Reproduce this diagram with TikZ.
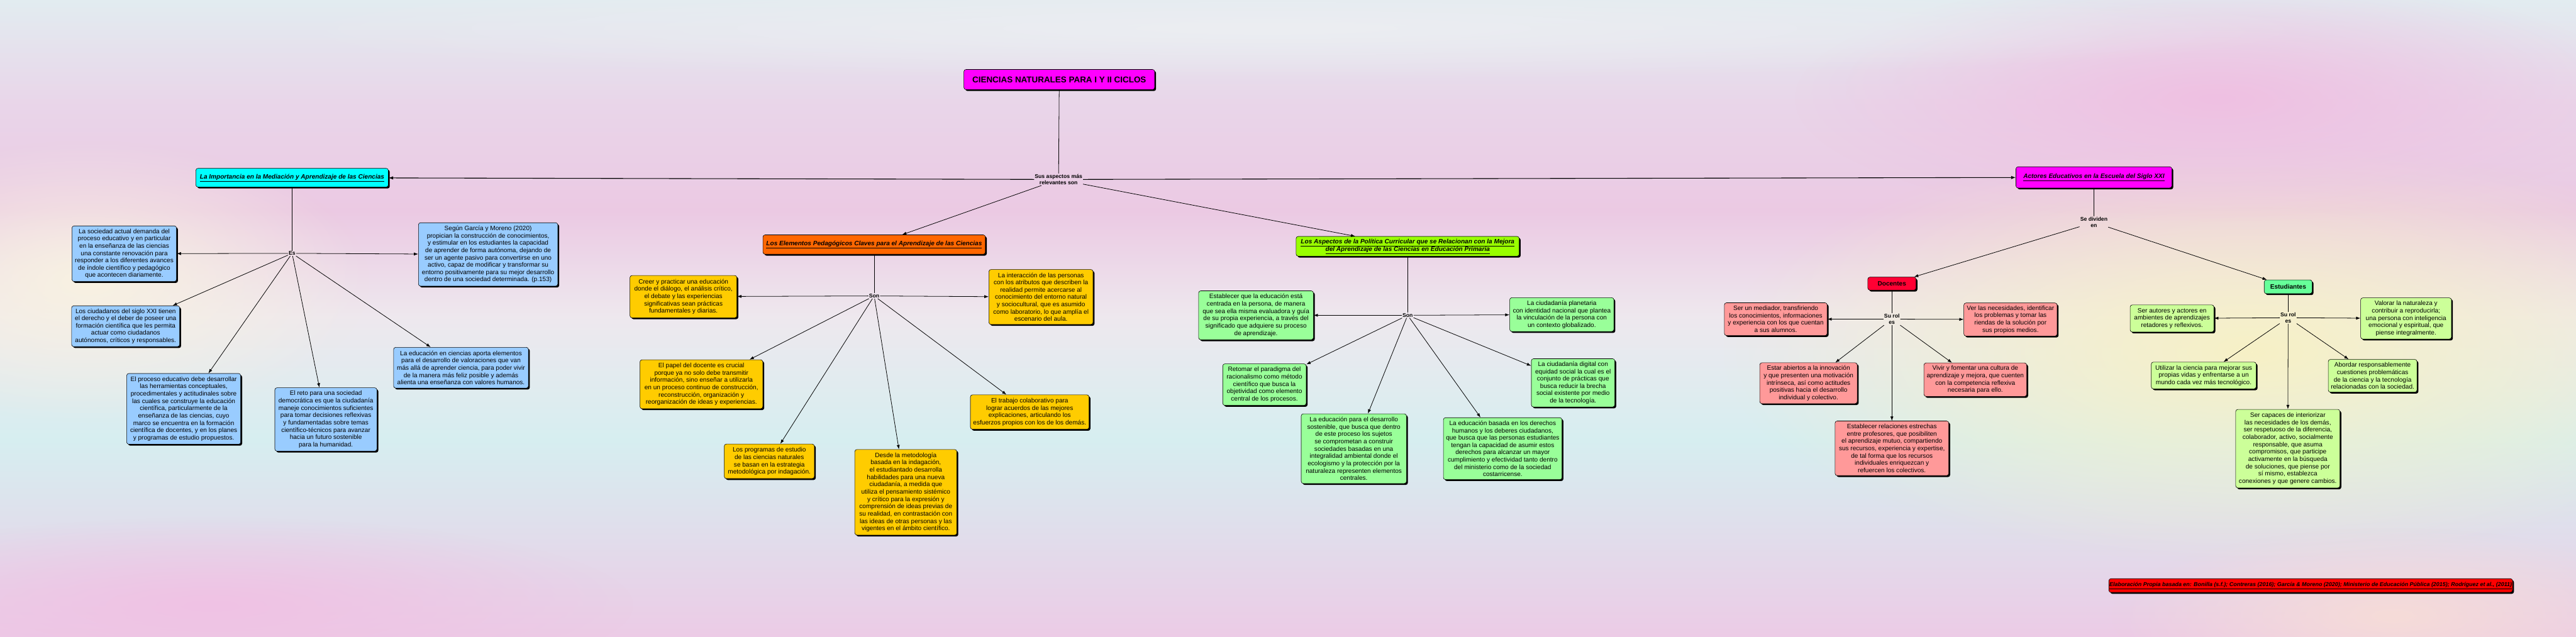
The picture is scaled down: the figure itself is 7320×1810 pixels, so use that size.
\documentclass[tikz,border=0pt]{standalone}
\usepackage{fontspec}
\setmainfont{Liberation Sans}
\usetikzlibrary{arrows.meta,shadows,fadings}
\newlength\pxu
\setlength\pxu{0.02cm}
\newcommand{\fBody}{\fontsize{10.24pt}{11.84pt}\selectfont}
\newcommand{\fHead}{\fontsize{10.24pt}{11.95pt}\selectfont\bfseries\itshape}
\newcommand{\fTitle}{\fontsize{13.66pt}{16pt}\selectfont\bfseries}
\newcommand{\fLbl}{\fontsize{8.8pt}{10.6pt}\selectfont\bfseries}
\newcommand{\fFoot}{\fontsize{9.1pt}{10pt}\selectfont\bfseries\itshape}
\definecolor{magT}{HTML}{FF00FF}
\definecolor{cyanH}{HTML}{00FFFF}
\definecolor{blueB}{HTML}{99CCFF}
\definecolor{orangeH}{HTML}{FF6600}
\definecolor{yellowB}{HTML}{FFCC00}
\definecolor{greenH}{HTML}{99FF00}
\definecolor{greenB}{HTML}{99FF99}
\definecolor{docRed}{HTML}{FF0033}
\definecolor{salmonB}{HTML}{FF9999}
\definecolor{estGreen}{HTML}{66FF99}
\definecolor{limeB}{HTML}{CCFF99}
\definecolor{footRed}{HTML}{FF0000}
\definecolor{bgA}{HTML}{E2ECF0}
\definecolor{bgB}{HTML}{E9D5E9}
\definecolor{bgC}{HTML}{EBC9E3}
\definecolor{bgD}{HTML}{EEE8EE}
\definecolor{bgE}{HTML}{D6EEF0}
\definecolor{bgF}{HTML}{ECCBE6}
\tikzfading[name=blobfade, inner color=transparent!0, outer color=transparent!100]
\tikzset{
  cbox/.style={draw=black, line width=0.6pt, rounded corners=3.4pt, align=center,
    font=\fBody, inner sep=0pt,
    drop shadow={shadow xshift=2.3pt, shadow yshift=-2.3pt, fill=black, opacity=1}},
  hbox/.style={cbox, font=\fHead},
  lbl/.style={font=\fLbl, align=center, inner sep=1pt},
  plain/.style={line width=0.8pt},
  conn/.style={line width=0.8pt, -{Latex[length=7pt,width=5pt]}},
  mainconn/.style={line width=1.1pt, -{Latex[length=7.5pt,width=5.5pt]}},
}
\begin{document}
\begin{tikzpicture}[x=0.02cm, y=-0.02cm]
\useasboundingbox (0,0) rectangle (7320,1810);
% background
\shade[top color=bgA, bottom color=bgB] (0,0) rectangle (7320,301);
\shade[top color=bgB, bottom color=bgC] (0,300) rectangle (7320,601);
\shade[top color=bgC, bottom color=bgD] (0,600) rectangle (7320,901);
\shade[top color=bgD, bottom color=bgE] (0,900) rectangle (7320,1251);
\shade[top color=bgE, bottom color=bgF] (0,1250) rectangle (7320,1810);
\fill[color={rgb,255:red,247;green,241;blue,198}, path fading=blobfade] (6400,1000) ellipse [x radius=30cm, y radius=12cm];
\fill[color={rgb,255:red,239;green,192;blue,226}, path fading=blobfade] (6300,280) ellipse [x radius=24cm, y radius=7cm];
\fill[color={rgb,255:red,248;green,242;blue,226}, path fading=blobfade] (250,800) ellipse [x radius=16cm, y radius=8cm];
\fill[color={rgb,255:red,240;green,194;blue,228}, path fading=blobfade] (600,1720) ellipse [x radius=24cm, y radius=5cm];
\fill[color={rgb,255:red,246;green,220;blue,216}, path fading=blobfade] (6800,1750) ellipse [x radius=16cm, y radius=5cm];
\fill[color={rgb,255:red,236;green,238;blue,242}, path fading=blobfade] (3600,80) ellipse [x radius=60cm, y radius=3cm];

% title and hub
\node[cbox, fill=magT, font=\fTitle, minimum width=542\pxu, minimum height=57\pxu] (title) at (3010,226) {CIENCIAS NATURALES PARA I Y II CICLOS};
\node[lbl] (hub) at (3008,510) {Sus aspectos más\\relevantes son};

% branch 1
\node[hbox, fill=cyanH, minimum width=547\pxu, minimum height=53\pxu] (h1) at (830,505) {\underline{La Importancia en la Mediación y Aprendizaje de las Ciencias}};
\node[lbl] (es) at (830,720) {Es};
\node[cbox, fill=blueB, minimum width=297\pxu, minimum height=158\pxu] (b1a) at (353,721) {La sociedad actual demanda del\\proceso educativo y en particular\\en la enseñanza de las ciencias\\una constante renovación para\\responder a los diferentes avances\\de índole científico y pedagógico\\que acontecen diariamente.};
\node[cbox, fill=blueB, minimum width=396\pxu, minimum height=180\pxu] (b1b) at (1387,723) {Según García y Moreno (2020)\\propician la construcción de conocimientos,\\y estimular en los estudiantes la capacidad\\de aprender de forma autónoma, dejando de\\ser un agente pasivo para convertirse en uno\\activo, capaz de modificar y transformar su\\entorno positivamente para su mejor desarrollo\\dentro de una sociedad determinada. (p.153)};
\node[cbox, fill=blueB, minimum width=307\pxu, minimum height=116\pxu] (b1c) at (357,927) {Los ciudadanos del siglo XXI tienen\\el derecho y el deber de poseer una\\formación científica que les permita\\actuar como ciudadanos\\autónomos, críticos y responsables.};
\node[cbox, fill=blueB, minimum width=324\pxu, minimum height=201\pxu] (b1d) at (522,1162) {El proceso educativo debe desarrollar\\las herramientas conceptuales,\\procedimentales y actitudinales sobre\\las cuales se construye la educación\\científica, particularmente de la\\enseñanza de las ciencias, cuyo\\marco se encuentra en la formación\\científica de docentes, y en los planes\\y programas de estudio propuestos.};
\node[cbox, fill=blueB, minimum width=290\pxu, minimum height=180\pxu] (b1e) at (926,1192) {El reto para una sociedad\\democrática es que la ciudadanía\\maneje conocimientos suficientes\\para tomar decisiones reflexivas\\y fundamentadas sobre temas\\científico-técnicos para avanzar\\hacia un futuro sostenible\\para la humanidad.};
\node[cbox, fill=blueB, minimum width=383\pxu, minimum height=116\pxu] (b1f) at (1310,1045) {La educación en ciencias aporta elementos\\para el desarrollo de valoraciones que van\\más allá de aprender ciencia, para poder vivir\\de la manera más feliz posible y además\\alienta una enseñanza con valores humanos.};

% branch 2
\node[hbox, fill=orangeH, minimum width=632\pxu, minimum height=55\pxu] (h2) at (2484,695) {\underline{Los Elementos Pedagógicos Claves para el Aprendizaje de las Ciencias}};
\node[lbl] (son2) at (2484,841) {Son};
\node[cbox, fill=yellowB, minimum width=304\pxu, minimum height=120\pxu] (b2a) at (1942,843) {Creer y practicar una educación\\donde el diálogo, el análisis crítico,\\el debate y las experiencias\\significativas sean prácticas\\fundamentales y diarias.};
\node[cbox, fill=yellowB, minimum width=296\pxu, minimum height=156\pxu] (b2b) at (2958,844) {La interacción de las personas\\con los atributos que describen la\\realidad permite acercarse al\\conocimiento del entorno natural\\y sociocultural, que es asumido\\como laboratorio, lo que amplía el\\escenario del aula.};
\node[cbox, fill=yellowB, minimum width=349\pxu, minimum height=139\pxu] (b2c) at (1993,1092) {El papel del docente es crucial\\porque ya no solo debe transmitir\\información, sino enseñar a utilizarla\\en un proceso continuo de construcción,\\reconstrucción, organización y\\reorganización de ideas y experiencias.};
\node[cbox, fill=yellowB, minimum width=256\pxu, minimum height=98\pxu] (b2d) at (2186,1311) {Los programas de estudio\\de las ciencias naturales\\se basan en la estrategia\\metodológica por indagación.};
\node[cbox, fill=yellowB, minimum width=290\pxu, minimum height=243\pxu] (b2e) at (2574,1399) {Desde la metodología\\basada en la indagación,\\el estudiantado desarrolla\\habilidades para una nueva\\ciudadanía, a medida que\\utiliza el pensamiento sistémico\\y crítico para la expresión y\\comprensión de ideas previas de\\su realidad, en contrastación con\\las ideas de otras personas y las\\vigentes en el ámbito científico.};
\node[cbox, fill=yellowB, minimum width=337\pxu, minimum height=98\pxu] (b2f) at (2926,1171) {El trabajo colaborativo para\\lograr acuerdos de las mejores\\explicaciones, articulando los\\esfuerzos propios con los de los demás.};

% branch 3
\node[hbox, fill=greenH, minimum width=634\pxu, minimum height=56\pxu] (h3) at (4000,700) {\underline{Los Aspectos de la Política Curricular que se Relacionan con la Mejora}\\\underline{del Aprendizaje de las Ciencias en Educación Primaria}};
\node[lbl] (son3) at (4000,896) {Son};
\node[cbox, fill=greenB, minimum width=326\pxu, minimum height=139\pxu] (b3a) at (3569,896) {Establecer que la educación está\\centrada en la persona, de manera\\que sea ella misma evaluadora y guía\\de su propia experiencia, a través del\\significado que adquiere su proceso\\de aprendizaje.};
\node[cbox, fill=greenB, minimum width=296\pxu, minimum height=96\pxu] (b3b) at (4438,894) {La ciudadanía planetaria\\con identidad nacional que plantea\\la vinculación de la persona con\\un contexto globalizado.};
\node[cbox, fill=greenB, minimum width=237\pxu, minimum height=137\pxu] (b3c) at (4470,1088) {La ciudadanía digital con\\equidad social la cual es el\\conjunto de prácticas que\\busca reducir la brecha\\social existente por medio\\de la tecnología.};
\node[cbox, fill=greenB, minimum width=237\pxu, minimum height=118\pxu] (b3d) at (3593,1093) {Retomar el paradigma del\\racionalismo como método\\científico que busca la\\objetividad como elemento\\central de los procesos.};
\node[cbox, fill=greenB, minimum width=299\pxu, minimum height=198\pxu] (b3e) at (3847,1275) {La educación para el desarrollo\\sostenible, que busca que dentro\\de este proceso los sujetos\\se comprometan a construir\\sociedades basadas en una\\integralidad ambiental donde el\\ecologismo y la protección por la\\naturaleza representen elementos\\centrales.};
\node[cbox, fill=greenB, minimum width=337\pxu, minimum height=176\pxu] (b3f) at (4270,1275) {La educación basada en los derechos\\humanos y los deberes ciudadanos,\\que busca que las personas estudiantes\\tengan la capacidad de asumir estos\\derechos para alcanzar un mayor\\cumplimiento y efectividad tanto dentro\\del ministerio como de la sociedad\\costarricense.};

% branch 4
\node[hbox, fill=magT, minimum width=443\pxu, minimum height=60\pxu] (h4) at (5950,504) {\underline{Actores Educativos en la Escuela del Siglo XXI}};
\node[lbl] (div) at (5950,632) {Se dividen\\en};
\node[cbox, fill=docRed, font=\fBody\bfseries, minimum width=137\pxu, minimum height=37\pxu] (doc) at (5376,806) {Docentes};
\node[lbl] (rold) at (5376,907) {Su rol\\es};
\node[cbox, fill=salmonB, minimum width=292\pxu, minimum height=93\pxu] (b4a) at (5046,907) {Ser un mediador, transfiriendo\\los conocimientos, informaciones\\y experiencia con los que cuentan\\a sus alumnos.};
\node[cbox, fill=salmonB, minimum width=265\pxu, minimum height=94\pxu] (b4b) at (5713,908) {Ver las necesidades, identificar\\los problemas y tomar las\\riendas de la solución por\\sus propios medios.};
\node[cbox, fill=salmonB, minimum width=277\pxu, minimum height=116\pxu] (b4c) at (5139,1089) {Estar abiertos a la innovación\\y que presenten una motivación\\intrínseca, así como actitudes\\positivas hacia el desarrollo\\individual y colectivo.};
\node[cbox, fill=salmonB, minimum width=292\pxu, minimum height=95\pxu] (b4d) at (5613,1079) {Vivir y fomentar una cultura de\\aprendizaje y mejora, que cuenten\\con la competencia reflexiva\\necesaria para ello.};
\node[cbox, fill=salmonB, minimum width=323\pxu, minimum height=155\pxu] (b4e) at (5376,1274) {Establecer relaciones estrechas\\entre profesores, que posibiliten\\el aprendizaje mutuo, compartiendo\\sus recursos, experiencia y expertise,\\de tal forma que los recursos\\individuales enriquezcan y\\refuercen los colectivos.};
\node[cbox, fill=estGreen, font=\fBody\bfseries, minimum width=136\pxu, minimum height=39\pxu] (est) at (6502,815) {Estudiantes};
\node[lbl] (role) at (6502,903) {Su rol\\es};
\node[cbox, fill=limeB, minimum width=238\pxu, minimum height=77\pxu] (b5a) at (6172,905) {Ser autores y actores en\\ambientes de aprendizajes\\retadores y reflexivos.};
\node[cbox, fill=limeB, minimum width=258\pxu, minimum height=117\pxu] (b5b) at (6837,905) {Valorar la naturaleza y\\contribuir a reproducirla;\\una persona con inteligencia\\emocional y espiritual, que\\piense integralmente.};
\node[cbox, fill=limeB, minimum width=298\pxu, minimum height=76\pxu] (b5c) at (6262,1067) {Utilizar la ciencia para mejorar sus\\propias vidas y enfrentarse a un\\mundo cada vez más tecnológico.};
\node[cbox, fill=limeB, minimum width=252\pxu, minimum height=93\pxu] (b5d) at (6742,1068) {Abordar responsablemente\\cuestiones problemáticas\\de la ciencia y la tecnología\\relacionadas con la sociedad.};
\node[cbox, fill=limeB, minimum width=296\pxu, minimum height=223\pxu] (b5e) at (6501,1275) {Ser capaces de interiorizar\\las necesidades de los demás,\\ser respetuoso de la diferencia,\\colaborador, activo, socialmente\\responsable, que asuma\\compromisos, que participe\\activamente en la búsqueda\\de soluciones, que piense por\\sí mismo, establezca\\conexiones y que genere cambios.};

% footer
\node[cbox, fill=footRed, font=\fFoot, minimum width=1147\pxu, minimum height=39\pxu] (foot) at (6566,1664) {\underline{Elaboración Propia basada en: Bonilla (s.f.); Contreras (2016); García \& Moreno (2020); Ministerio de Educación Pública (2015); Rodríguez et al., (2011)}};

% connectors
\draw[plain] (title) -- (hub);
\draw[mainconn] (hub) -- (h1);
\draw[mainconn] (hub) -- (h4);
\draw[conn] (hub) -- (h2);
\draw[conn] (hub) -- (h3);

\draw[plain] (h1) -- (es);
\foreach \t in {b1a,b1b,b1c,b1d,b1e,b1f} \draw[conn] (es) -- (\t);
\draw[plain] (h2) -- (son2);
\foreach \t in {b2a,b2b,b2c,b2d,b2e,b2f} \draw[conn] (son2) -- (\t);
\draw[plain] (h3) -- (son3);
\foreach \t in {b3a,b3b,b3c,b3d,b3e,b3f} \draw[conn] (son3) -- (\t);
\draw[plain] (h4) -- (div);
\draw[conn] (div) -- (doc);
\draw[conn] (div) -- (est);
\draw[plain] (doc) -- (rold);
\foreach \t in {b4a,b4b,b4c,b4d,b4e} \draw[conn] (rold) -- (\t);
\draw[plain] (est) -- (role);
\foreach \t in {b5a,b5b,b5c,b5d,b5e} \draw[conn] (role) -- (\t);
\end{tikzpicture}
\end{document}
